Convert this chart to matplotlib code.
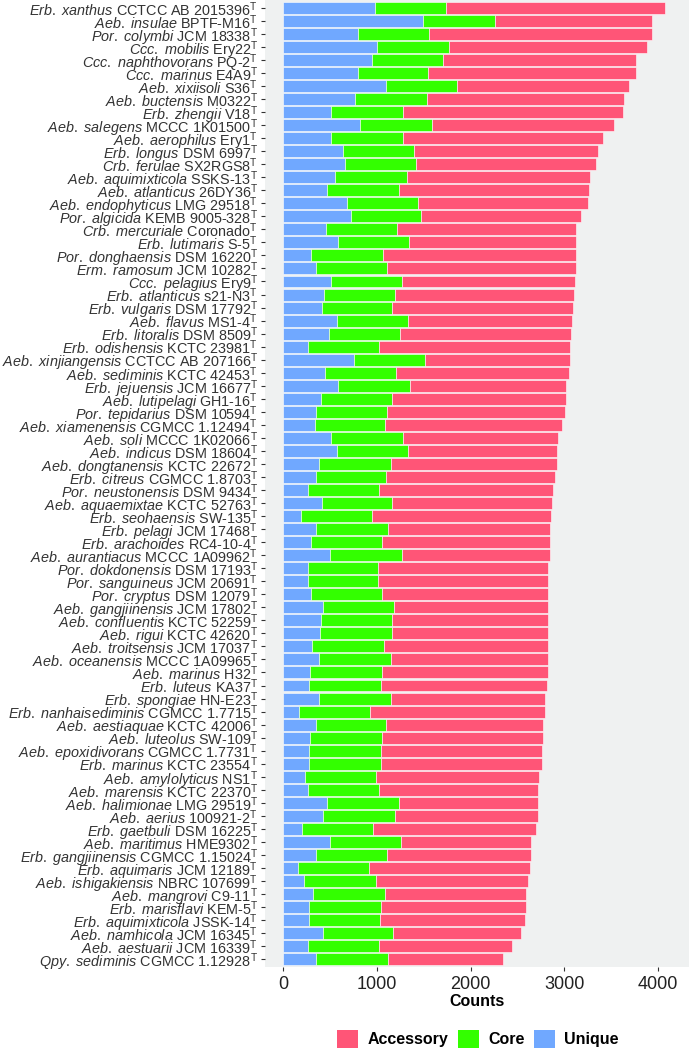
import matplotlib
matplotlib.use("Agg")
import matplotlib.pyplot as plt
from matplotlib.patches import Patch
import numpy as np

plt.rcParams['font.family'] = ['Liberation Sans', 'DejaVu Sans']
plt.rcParams['mathtext.fontset'] = 'custom'
plt.rcParams['mathtext.rm'] = 'Liberation Sans'
plt.rcParams['mathtext.it'] = 'Liberation Sans:italic'
plt.rcParams['mathtext.bf'] = 'Liberation Sans:bold'

# species (italic part) and strain names, sorted by total count (descending)
species = [
    "Erb. xanthus", "Aeb. insulae", "Por. colymbi", "Ccc. mobilis", "Ccc. naphthovorans",
    "Ccc. marinus", "Aeb. xixiisoli", "Aeb. buctensis", "Erb. zhengii", "Aeb. salegens",
    "Aeb. aerophilus", "Erb. longus", "Crb. ferulae", "Aeb. aquimixticola", "Aeb. atlanticus",
    "Aeb. endophyticus", "Por. algicida", "Crb. mercuriale", "Erb. lutimaris", "Por. donghaensis",
    "Erm. ramosum", "Ccc. pelagius", "Erb. atlanticus", "Erb. vulgaris", "Aeb. flavus",
    "Erb. litoralis", "Erb. odishensis", "Aeb. xinjiangensis", "Aeb. sediminis", "Erb. jejuensis",
    "Aeb. lutipelagi", "Por. tepidarius", "Aeb. xiamenensis", "Aeb. soli", "Aeb. indicus",
    "Aeb. dongtanensis", "Erb. citreus", "Por. neustonensis", "Aeb. aquaemixtae", "Erb. seohaensis",
    "Erb. pelagi", "Erb. arachoides", "Aeb. aurantiacus", "Por. dokdonensis", "Por. sanguineus",
    "Por. cryptus", "Aeb. gangjiinensis", "Aeb. confluentis", "Aeb. rigui", "Aeb. troitsensis",
    "Aeb. oceanensis", "Aeb. marinus", "Erb. luteus", "Erb. spongiae", "Erb. nanhaisediminis",
    "Aeb. aestiaquae", "Aeb. luteolus", "Aeb. epoxidivorans", "Erb. marinus", "Aeb. amylolyticus",
    "Aeb. marensis", "Aeb. halimionae", "Aeb. aerius", "Erb. gaetbuli", "Aeb. maritimus",
    "Erb. gangjiinensis", "Erb. aquimaris", "Aeb. ishigakiensis", "Aeb. mangrovi", "Erb. marisflavi",
    "Erb. aquimixticola", "Aeb. namhicola", "Aeb. aestuarii", "Qpy. sediminis",
]
strains = [
    "CCTCC AB 2015396", "BPTF-M16", "JCM 18338", "Ery22", "PQ-2",
    "E4A9", "S36", "M0322", "V18", "MCCC 1K01500",
    "Ery1", "DSM 6997", "SX2RGS8", "SSKS-13", "26DY36",
    "LMG 29518", "KEMB 9005-328", "Coronado", "S-5", "DSM 16220",
    "JCM 10282", "Ery9", "s21-N3", "DSM 17792", "MS1-4",
    "DSM 8509", "KCTC 23981", "CCTCC AB 207166", "KCTC 42453", "JCM 16677",
    "GH1-16", "DSM 10594", "CGMCC 1.12494", "MCCC 1K02066", "DSM 18604",
    "KCTC 22672", "CGMCC 1.8703", "DSM 9434", "KCTC 52763", "SW-135",
    "JCM 17468", "RC4-10-4", "MCCC 1A09962", "DSM 17193", "JCM 20691",
    "DSM 12079", "JCM 17802", "KCTC 52259", "KCTC 42620", "JCM 17037",
    "MCCC 1A09965", "H32", "KA37", "HN-E23", "CGMCC 1.7715",
    "KCTC 42006", "SW-109", "CGMCC 1.7731", "KCTC 23554", "NS1",
    "KCTC 22370", "LMG 29519", "100921-2", "DSM 16225", "HME9302",
    "CGMCC 1.15024", "JCM 12189", "NBRC 107699", "C9-11", "KEM-5",
    "JSSK-14", "JCM 16345", "JCM 16339", "CGMCC 1.12928",
]

unique = [
    976, 1493, 798, 1000, 948, 793, 1094, 765, 512, 822,
    512, 638, 653, 554, 469, 676, 718, 455, 582, 296,
    343, 507, 432, 408, 573, 488, 263, 751, 441, 587,
    404, 347, 333, 512, 573, 380, 343, 263, 408, 188,
    352, 296, 498, 258, 258, 291, 423, 404, 394, 310,
    385, 286, 277, 380, 164, 343, 286, 277, 277, 230,
    258, 469, 427, 197, 493, 347, 155, 225, 319, 277,
    272, 418, 263, 352,
]
core = [
    761, 770, 756, 765, 756, 756, 765, 766, 765, 765,
    765, 756, 765, 761, 761, 761, 751, 761, 761, 765,
    760, 761, 760, 756, 760, 761, 760, 761, 766, 760,
    756, 761, 752, 765, 760, 766, 751, 760, 756, 760,
    761, 760, 765, 751, 756, 761, 760, 756, 761, 760,
    765, 766, 761, 766, 766, 751, 766, 761, 761, 761,
    765, 766, 765, 761, 765, 761, 760, 766, 761, 761,
    761, 751, 760, 761,
]
accessory = [
    2343, 1671, 2380, 2122, 2066, 2221, 1831, 2103, 2352, 1948,
    2136, 1968, 1925, 1962, 2033, 1812, 1709, 1911, 1784, 2061,
    2019, 1849, 1911, 1930, 1747, 1826, 2038, 1549, 1840, 1672,
    1854, 1901, 1896, 1653, 1592, 1779, 1807, 1855, 1700, 1911,
    1732, 1789, 1582, 1822, 1817, 1779, 1648, 1666, 1671, 1752,
    1672, 1770, 1779, 1652, 1868, 1681, 1723, 1723, 1723, 1741,
    1700, 1488, 1526, 1742, 1385, 1535, 1714, 1624, 1512, 1549,
    1544, 1371, 1418, 1234,
]

col_acc = "#FF5577"
col_core = "#33FF00"
col_uni = "#70A8FF"

labels = []
for sp, st in zip(species, strains):
    sp_tex = sp.replace(" ", r"\ ")
    labels.append(r"$\mathit{" + sp_tex + "}$ " + st + r"${}^{\mathrm{T}}$")

y = np.arange(len(species))
u = np.array(unique)
c = np.array(core)
a = np.array(accessory)

fig = plt.figure(figsize=(6.89, 10.5), dpi=100)
ax = fig.add_axes([265 / 689, 1 - 967 / 1050, 1 - 265 / 689, 967 / 1050])
ax.set_facecolor("#EFF1F1")

kw = dict(height=0.92, edgecolor="white", linewidth=0.4)
ax.barh(y, u, left=0, color=col_uni, **kw)
ax.barh(y, c, left=u, color=col_core, **kw)
ax.barh(y, a, left=u + c, color=col_acc, **kw)

ax.set_ylim(len(species) - 0.4, -0.6)
ax.set_xlim(-197, 4333)
ax.set_yticks(y)
ax.set_yticklabels(labels, fontsize=10.4, color="black")
ax.set_xticks([0, 1000, 2000, 3000, 4000])
ax.tick_params(axis="x", labelsize=13, colors="#333333", labelcolor="#222222", length=3, width=0.8)
ax.tick_params(axis="y", colors="#333333", length=3, width=0.8, pad=2)
for s in ax.spines.values():
    s.set_visible(False)
ax.set_xlabel("Counts", fontsize=11.5, fontweight="bold", labelpad=1)

handles = [Patch(facecolor=col_acc, label="Accessory"),
           Patch(facecolor=col_core, label="Core"),
           Patch(facecolor=col_uni, label="Unique")]
leg = fig.legend(handles=handles, loc="center", bbox_to_anchor=(478 / 689, 1 - 1039 / 1050),
                 ncol=3, frameon=False, handlelength=1.3, handleheight=1.4,
                 handletextpad=0.6, columnspacing=0.6,
                 prop={"size": 11.5, "weight": "bold"})

fig.savefig("out.png", dpi=100)
